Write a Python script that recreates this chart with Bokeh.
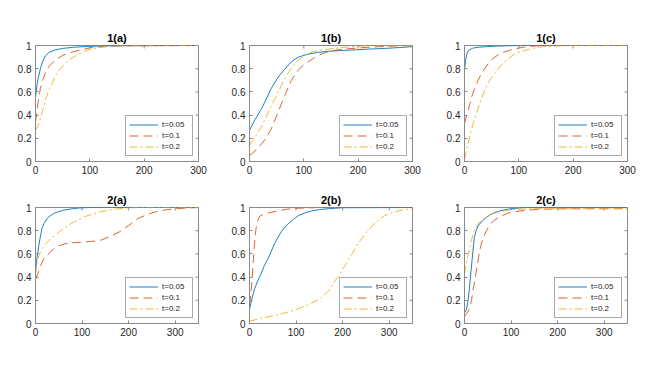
import math
from bokeh.plotting import figure
from bokeh.layouts import column, row
from bokeh.models import (Range1d, FixedTicker, NumeralTickFormatter,
                          Legend, LegendItem)
from bokeh.embed import file_html
from bokeh.resources import INLINE

# ---------------- data ----------------
titles = ["1(a)", "1(b)", "1(c)", "2(a)", "2(b)", "2(c)"]
series_labels = ["t=0.05", "t=0.1", "t=0.2"]
x_ticks = [0, 100, 200, 300]
y_ticks = [0, 0.2, 0.4, 0.6, 0.8, 1]
x_max_row1 = 300
x_max_row2 = 350

# 1(a)
a1_blue_x = [0, 3, 6, 9, 13, 18, 25, 35, 50, 70, 100, 150, 300]
a1_blue_y = [0.55, 0.67, 0.74, 0.80, 0.86, 0.91, 0.94, 0.96, 0.975, 0.985, 0.993, 0.998, 1.0]
a1_orange_x = [0, 3, 6, 9, 13, 18, 25, 35, 50, 65, 80, 100, 130, 160, 300]
a1_orange_y = [0.34, 0.44, 0.55, 0.63, 0.70, 0.76, 0.82, 0.87, 0.915, 0.94, 0.958, 0.98, 0.993, 0.998, 1.0]
a1_yellow_x = [0, 5, 9, 14, 19, 25, 30, 40, 53, 65, 77, 90, 102, 120, 140, 170, 300]
a1_yellow_y = [0.27, 0.31, 0.37, 0.45, 0.54, 0.62, 0.67, 0.77, 0.84, 0.885, 0.92, 0.95, 0.97, 0.985, 0.993, 0.998, 1.0]

# 1(b)
b1_blue_x = [0, 10, 22, 30, 40, 53, 62, 71, 80, 90, 100, 108, 125, 145, 170, 195, 225, 250, 275, 300]
b1_blue_y = [0.27, 0.36, 0.455, 0.53, 0.63, 0.73, 0.78, 0.83, 0.87, 0.90, 0.915, 0.925, 0.94, 0.95, 0.957, 0.963, 0.97, 0.975, 0.982, 0.99]
b1_orange_x = [0, 10, 22, 30, 40, 53, 65, 77, 90, 100, 108, 120, 127, 140, 151, 170, 195, 220, 238, 270, 300]
b1_orange_y = [0.05, 0.09, 0.15, 0.20, 0.28, 0.43, 0.57, 0.70, 0.79, 0.835, 0.86, 0.895, 0.915, 0.94, 0.955, 0.967, 0.977, 0.985, 0.99, 0.996, 1.0]
b1_yellow_x = [0, 10, 22, 30, 40, 53, 62, 71, 80, 90, 100, 108, 120, 133, 150, 176, 207, 240, 300]
b1_yellow_y = [0.14, 0.21, 0.30, 0.38, 0.48, 0.60, 0.69, 0.76, 0.82, 0.875, 0.91, 0.935, 0.95, 0.96, 0.972, 0.985, 0.995, 0.999, 1.0]

# 1(c)
c1_blue_x = [0, 2, 4, 6, 10, 15, 25, 40, 60, 100, 300]
c1_blue_y = [0.79, 0.87, 0.92, 0.95, 0.965, 0.977, 0.985, 0.99, 0.995, 1.0, 1.0]
c1_orange_x = [0, 3, 6, 10, 15, 20, 25, 31, 37, 45, 53, 62, 71, 80, 90, 100, 114, 130, 150, 300]
c1_orange_y = [0.325, 0.38, 0.43, 0.50, 0.585, 0.645, 0.70, 0.755, 0.80, 0.85, 0.89, 0.92, 0.94, 0.955, 0.968, 0.978, 0.99, 0.996, 1.0, 1.0]
c1_yellow_x = [0, 3, 6, 10, 15, 20, 25, 31, 37, 45, 53, 62, 71, 80, 90, 100, 114, 130, 145, 170, 200, 300]
c1_yellow_y = [0.02, 0.08, 0.15, 0.22, 0.31, 0.39, 0.455, 0.54, 0.615, 0.69, 0.745, 0.80, 0.85, 0.885, 0.92, 0.94, 0.962, 0.98, 0.99, 0.996, 1.0, 1.0]

# 2(a)
a2_blue_x = [0, 3, 7, 11, 14, 18, 25, 32, 40, 50, 61, 80, 97, 120, 350]
a2_blue_y = [0.44, 0.56, 0.67, 0.76, 0.82, 0.86, 0.905, 0.93, 0.95, 0.965, 0.977, 0.99, 0.997, 1.0, 1.0]
a2_orange_x = [0, 5, 11, 18, 25, 33, 40, 50, 61, 75, 97, 120, 140, 160, 180, 200, 220, 240, 260, 280, 300, 325, 350]
a2_orange_y = [0.38, 0.43, 0.50, 0.56, 0.59, 0.62, 0.645, 0.67, 0.685, 0.695, 0.70, 0.707, 0.718, 0.75, 0.79, 0.845, 0.905, 0.94, 0.965, 0.98, 0.99, 0.995, 1.0]
a2_yellow_x = [0, 3, 7, 12, 18, 25, 32, 43, 54, 65, 76, 90, 105, 120, 133, 150, 170, 195, 220, 350]
a2_yellow_y = [0.42, 0.52, 0.585, 0.63, 0.67, 0.70, 0.73, 0.765, 0.80, 0.83, 0.86, 0.89, 0.92, 0.94, 0.956, 0.972, 0.985, 0.995, 1.0, 1.0]

# 2(b)
b2_blue_x = [0, 5, 11, 18, 25, 32, 40, 47, 54, 61, 68, 76, 83, 95, 105, 120, 133, 150, 170, 200, 350]
b2_blue_y = [0.12, 0.21, 0.30, 0.37, 0.43, 0.50, 0.56, 0.625, 0.69, 0.74, 0.79, 0.83, 0.86, 0.90, 0.93, 0.955, 0.97, 0.982, 0.99, 0.998, 1.0]
b2_orange_x = [0, 3, 7, 10, 14, 18, 22, 30, 40, 60, 80, 100, 150, 350]
b2_orange_y = [0.16, 0.25, 0.47, 0.65, 0.82, 0.89, 0.925, 0.94, 0.953, 0.97, 0.985, 0.993, 1.0, 1.0]
b2_yellow_x = [0, 25, 50, 75, 100, 125, 150, 170, 184, 195, 205, 220, 235, 250, 270, 290, 310, 330, 350]
b2_yellow_y = [0.02, 0.045, 0.065, 0.09, 0.12, 0.16, 0.21, 0.28, 0.37, 0.43, 0.50, 0.60, 0.70, 0.78, 0.87, 0.93, 0.963, 0.98, 0.99]

# 2(c)
c2_blue_x = [0, 4, 7, 10, 14, 18, 21, 25, 29, 35, 40, 47, 54, 64, 76, 92, 110, 130, 350]
c2_blue_y = [0.09, 0.12, 0.18, 0.28, 0.45, 0.62, 0.74, 0.80, 0.84, 0.87, 0.89, 0.915, 0.935, 0.955, 0.97, 0.985, 0.993, 1.0, 1.0]
c2_orange_x = [0, 4, 7, 11, 15, 18, 22, 26, 30, 35, 40, 47, 54, 64, 76, 92, 110, 133, 160, 200, 350]
c2_orange_y = [0.06, 0.08, 0.10, 0.13, 0.20, 0.28, 0.37, 0.47, 0.57, 0.67, 0.74, 0.80, 0.85, 0.89, 0.92, 0.95, 0.965, 0.977, 0.985, 0.988, 0.99]
c2_yellow_x = [0, 3, 7, 11, 15, 21, 27, 33, 40, 47, 57, 68, 80, 97, 120, 150, 200, 350]
c2_yellow_y = [0.43, 0.50, 0.58, 0.64, 0.72, 0.80, 0.845, 0.875, 0.90, 0.92, 0.945, 0.957, 0.967, 0.977, 0.985, 0.99, 0.99, 0.99]

panels = [
    [(a1_blue_x, a1_blue_y), (a1_orange_x, a1_orange_y), (a1_yellow_x, a1_yellow_y)],
    [(b1_blue_x, b1_blue_y), (b1_orange_x, b1_orange_y), (b1_yellow_x, b1_yellow_y)],
    [(c1_blue_x, c1_blue_y), (c1_orange_x, c1_orange_y), (c1_yellow_x, c1_yellow_y)],
    [(a2_blue_x, a2_blue_y), (a2_orange_x, a2_orange_y), (a2_yellow_x, a2_yellow_y)],
    [(b2_blue_x, b2_blue_y), (b2_orange_x, b2_orange_y), (b2_yellow_x, b2_yellow_y)],
    [(c2_blue_x, c2_blue_y), (c2_orange_x, c2_orange_y), (c2_yellow_x, c2_yellow_y)],
]

# ---------------- style ----------------
colors = ["#0072BD", "#D95319", "#EDB120"]
dashes = ["solid", "9 5", "8 3 2 3"]
FONT = "Liberation Sans"
BOX = "#8a8a8a"
TXT = "#262626"
FRAME_W = 163
FRAME_H = 116
LEFT = [35, 27, 27]
RIGHT = [24, 25, 25]
TOP = [45, 26]
BOTTOM = 20


def style_axis(ax):
    ax.axis_line_color = BOX
    ax.major_tick_line_color = BOX
    ax.minor_tick_line_color = None
    ax.major_tick_in = 3
    ax.major_tick_out = 0
    ax.major_label_text_font = FONT
    ax.major_label_text_font_size = "10px"
    ax.major_label_text_color = TXT
    ax.major_label_standoff = 4


def make_panel(idx):
    r = idx // 3
    c = idx % 3
    xmax = x_max_row1 if r == 0 else x_max_row2
    left, right, top, bottom = LEFT[c], RIGHT[c], TOP[r], BOTTOM
    p = figure(width=left + FRAME_W + right, height=top + FRAME_H + bottom,
               x_range=Range1d(0, xmax), y_range=Range1d(0, 1),
               output_backend="svg", toolbar_location=None,
               min_border_left=left, min_border_right=right,
               min_border_top=top, min_border_bottom=bottom,
               title=titles[idx])
    p.title.text_font = FONT
    p.title.text_font_size = "11px"
    p.title.text_font_style = "bold"
    p.title.text_color = "#000000"
    p.title.align = "center"
    p.title.standoff = 3
    p.background_fill_color = "white"
    p.border_fill_color = "white"
    p.outline_line_color = BOX
    p.outline_line_width = 1
    p.xgrid.grid_line_color = None
    p.ygrid.grid_line_color = None

    p.xaxis.ticker = FixedTicker(ticks=x_ticks)
    p.yaxis.ticker = FixedTicker(ticks=y_ticks)
    p.yaxis.formatter = NumeralTickFormatter(format="0.[0]")
    style_axis(p.xaxis[0])
    style_axis(p.yaxis[0])

    # inward tick marks on the top and right edges of the box (MATLAB style)
    top_ticks = [t for t in x_ticks if 0 < t < xmax]
    p.ray(x=top_ticks, y=[1] * len(top_ticks), length=3, length_units="screen",
          angle=-math.pi / 2, line_color=BOX, line_width=1)
    right_ticks = [t for t in y_ticks if 0 < t < 1]
    p.ray(x=[xmax] * len(right_ticks), y=right_ticks, length=3, length_units="screen",
          angle=math.pi, line_color=BOX, line_width=1)

    items = []
    for k, (xs, ys) in enumerate(panels[idx]):
        rr = p.line(xs, ys, line_color=colors[k], line_width=0.9, line_dash=dashes[k])
        items.append(LegendItem(label=series_labels[k], renderers=[rr]))

    leg = Legend(items=items, location="bottom_right")
    leg.label_text_font = FONT
    leg.label_text_font_size = "8px"
    leg.label_text_color = TXT
    leg.glyph_width = 29
    leg.glyph_height = 11
    leg.label_height = 11
    leg.label_width = 27
    leg.label_standoff = 4
    leg.spacing = 0
    leg.padding = 3
    leg.margin = 5
    leg.border_line_color = "#555555"
    leg.border_line_width = 1
    leg.background_fill_color = "white"
    leg.background_fill_alpha = 1
    p.add_layout(leg)
    return p


figs = [make_panel(i) for i in range(6)]
layout = column(row(*figs[:3]), row(*figs[3:]))

open("out.html", "w").write(file_html(layout, INLINE))
